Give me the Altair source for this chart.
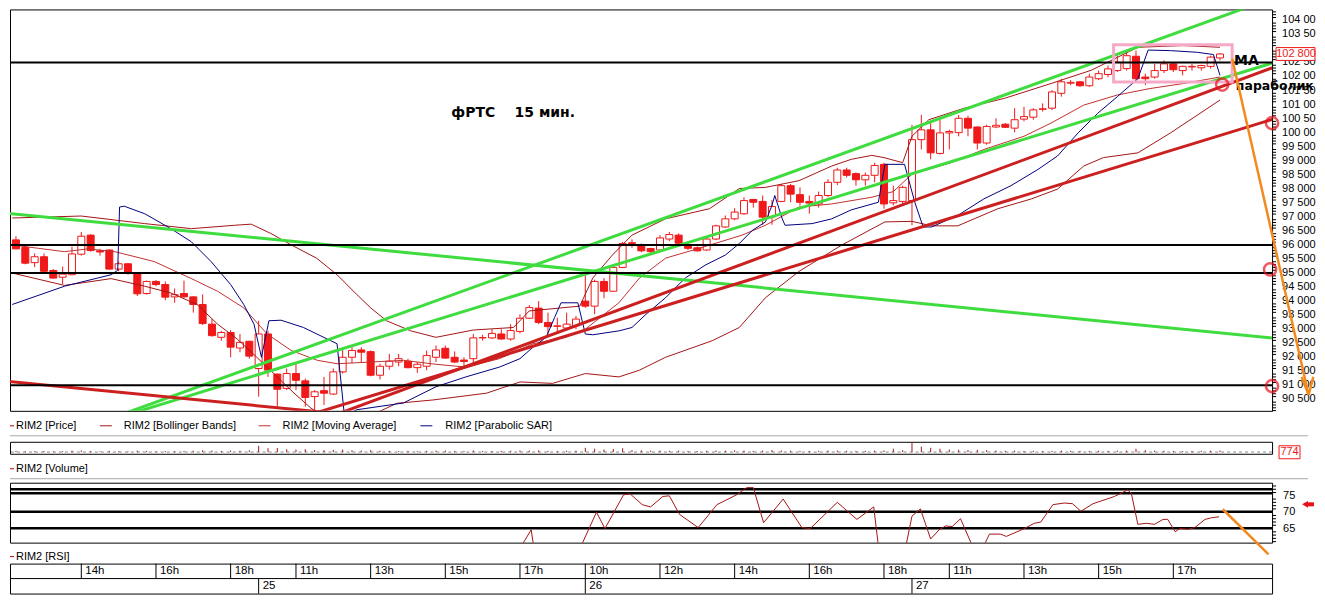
import altair as alt
import pandas as pd

# ---------------- candles (15 min, index 1 = 24th 12:15) ----------------
OPEN = [96180, 95910, 95370, 95580, 95090, 94850, 94940, 95670, 96350, 95790,
        95820, 95140, 95330, 95000, 94270, 94700, 94590, 94150, 94270, 94150,
        93880, 93180, 92710, 92880, 92330, 92570, 91600, 92830, 91400, 90890,
        91420, 91160, 90600, 90810, 90690, 91480, 92000, 92260, 92200, 91360,
        91680, 91830, 91860, 91630, 91680, 92000, 92320, 92000, 91900, 91950,
        92690, 92690, 92830, 92650, 92920, 93390, 93750, 93240, 93100, 93040,
        93120, 94000, 93820, 94700, 94350, 95200, 96050, 96000, 95870, 95820,
        96210, 96350, 96000, 95900, 95820, 96210, 96640, 96930, 97110, 97620,
        97550, 97000, 97550, 98110, 97790, 97550, 97460, 97760, 98230, 98670,
        98540, 98320, 98480, 98870, 97500, 97550, 97580, 99750, 100100, 99260,
        99990, 100000, 100510, 100200, 99630, 100200, 100300, 100160, 100480, 100550,
        100830, 100870, 101400, 101760, 101810, 101670, 101920, 102070, 102210, 102280,
        102720, 101980, 101980, 102210, 102450, 102210, 102340, 102310, 102360, 102660]
HIGH = [96310, 96000, 95700, 95700, 95140, 95230, 95940, 96460, 96380, 95860,
        95840, 95410, 95350, 95020, 94730, 94750, 94700, 94450, 94730, 94180,
        94240, 93360, 92940, 92970, 92830, 92590, 93300, 92940, 91420, 91600,
        91790, 91240, 90830, 91300, 91600, 92300, 92360, 92360, 92240, 91770,
        92120, 92120, 91950, 91830, 92240, 92420, 92420, 92210, 92000, 92830,
        92800, 93000, 93000, 93180, 93530, 93860, 94000, 93590, 93410, 93590,
        93470, 95060, 94760, 94820, 95230, 96110, 96200, 96050, 95900, 96350,
        96460, 96410, 96090, 95950, 96250, 96720, 97050, 97310, 97700, 97640,
        97760, 97600, 98170, 98170, 98050, 97760, 97900, 98340, 98750, 98750,
        98580, 98580, 98930, 98930, 98110, 98110, 100280, 100630, 100340, 100460,
        100100, 100630, 100600, 100220, 100280, 100510, 100340, 100870, 100920, 100870,
        101040, 101510, 101920, 101870, 101840, 102100, 102210, 102390, 102740, 102860,
        102920, 102100, 102450, 102570, 102510, 102390, 102450, 102420, 102740, 102830]
LOW = [95850, 95310, 95210, 95030, 94800, 94610, 94920, 95620, 95760, 95620,
       95120, 95060, 94940, 94180, 94230, 94530, 94030, 93940, 94120, 93590,
       93150, 92730, 92590, 92000, 92180, 91950, 90600, 91300, 90180, 90830,
       90830, 90240, 90100, 90300, 90660, 91420, 91790, 91830, 91320, 91210,
       91560, 91680, 91600, 91440, 91540, 91830, 91950, 91790, 91680, 91790,
       92590, 92650, 92620, 92590, 92850, 93360, 93180, 92830, 92830, 92940,
       93000, 93760, 93530, 94100, 94350, 95170, 95900, 95740, 95700, 95760,
       96140, 96000, 95820, 95760, 95790, 96170, 96610, 96880, 97070, 97330,
       96720, 96720, 97520, 97520, 97400, 97110, 97330, 97700, 98130, 98400,
       98110, 98110, 98230, 97290, 97410, 97460, 96700, 99400, 99050, 99220,
       99400, 99870, 99870, 99400, 99570, 100160, 100160, 100010, 100400, 100460,
       100750, 100800, 101280, 101690, 101630, 101630, 101870, 101980, 102160, 102210,
       101870, 101690, 101920, 102120, 102160, 102040, 102210, 102210, 102280, 102570]
CLOSE = [95860, 95350, 95580, 95060, 94820, 94960, 95680, 96310, 95800, 95750,
         95140, 95330, 95020, 94260, 94700, 94590, 94140, 94230, 94150, 93880,
         93200, 92770, 92880, 92360, 92530, 92040, 92830, 91540, 90860, 91420,
         91180, 90570, 90770, 90720, 91480, 92000, 92240, 92180, 91360, 91680,
         91860, 91950, 91630, 91750, 92060, 92260, 91970, 91830, 91850, 92690,
         92700, 92850, 92650, 92950, 93390, 93770, 93240, 93090, 93120, 93180,
         93360, 93820, 94700, 94350, 95200, 96050, 96080, 95790, 95760, 96250,
         96370, 96060, 95880, 95790, 96210, 96680, 96930, 97170, 97580, 97520,
         96990, 97370, 98110, 97810, 97520, 97490, 97760, 98230, 98670, 98480,
         98320, 98480, 98830, 97460, 97580, 98050, 99750, 100100, 99280, 99990,
         100040, 100510, 100160, 99630, 100220, 100260, 100190, 100460, 100570, 100810,
         100850, 101450, 101810, 101790, 101670, 101980, 102100, 102270, 102510, 102740,
         101920, 101920, 102210, 102450, 102240, 102360, 102360, 102390, 102690, 102800]
VOLUME = [90, 60, 70, 80, 60, 70, 110, 120, 80, 60, 90, 70, 60, 110, 90, 60, 80, 70, 80, 100,
          140, 120, 90, 110, 100, 130,
          480, 300, 320, 220, 200, 230, 160, 150, 170, 200, 140, 110, 150, 100, 90, 80, 90, 70,
          100, 110, 120, 90, 80, 130, 90, 80, 90, 100, 120, 110, 130, 90, 80, 100, 110,
          330, 260, 200, 240, 300, 150, 130, 110, 120, 100, 110, 90, 80, 100, 120, 110, 130, 120,
          90, 110, 150, 120, 110, 90, 80, 100, 120, 110, 100, 90, 100, 110, 130, 260, 140,
          774, 420, 330, 260, 200, 180, 160, 170, 150, 120, 100, 110, 90, 100, 80, 90, 110, 100,
          90, 80, 100, 90, 110, 120, 250, 140, 110, 100, 90, 80, 90, 100, 110, 120]

# ---------------- indicators ----------------
BB_UP_I = [0.6, 8, 14.8, 19.8, 24.4, 26.2, 28.3, 30.5, 33.2, 35.4, 37.5, 39, 40.7, 43.3, 46, 50, 54.3, 56,
           61.4, 62.8, 64.9, 67, 70.6, 75.3, 78.5, 81.3, 84.9, 88.4, 90.5, 92.7, 94, 96, 97, 98.8, 102.6,
           106.9, 111.9, 116.2, 121.2, 126.1, 130]
BB_UP = [96960, 97030, 96760, 96580, 96700, 96740, 96410, 96000, 95530, 94940, 94240, 93760, 93300, 92940,
         92710, 92970, 93060, 93650, 93820, 94820, 95640, 96350, 96930, 97290, 98010, 98050, 98290, 98810,
         99050, 99190, 99110, 98930, 99870, 100460, 100870, 101220, 101750, 102220, 103040, 103100, 103040]
MA_I = [0.6, 3.4, 6.2, 8.7, 11.6, 15.8, 19.8, 22.6, 25.4, 27.9, 30.5, 33.3, 35.4, 39, 42.5, 46, 49.2, 52.8,
        56.4, 59.9, 62, 65.6, 67.8, 70.6, 74.2, 78.8, 81.3, 84.9, 88.4, 92.7, 95, 97, 101.2, 104.7, 109,
        111.9, 115.4, 119, 122.5, 126.1, 130]
MA = [96000, 95880, 95760, 95860, 95760, 95410, 94800, 94350, 93760, 92830, 92240, 91890, 91770, 91830,
      91890, 91750, 91650, 91950, 92480, 92710, 93000, 93940, 94820, 95530, 95880, 96350, 96700, 97350,
      97460, 97700, 97900, 98520, 98930, 99400, 99870, 100340, 100980, 101340, 101570, 101750, 101980]
BB_LO_I = [0.6, 6.2, 11.2, 14.8, 17.6, 20.4, 22.6, 24.7, 26.8, 29, 30.8, 32.6, 34, 37, 39.5, 41.8, 45.7,
           51.4, 55, 58.5, 62, 65.6, 67.8, 70.6, 75.6, 78.5, 81.3, 84.9, 89.5, 94.1, 97, 99.1, 101.9,
           106.2, 109.8, 112.6, 115.4, 117.5, 121.2, 124.7, 130]
BB_LO = [95000, 94560, 94800, 94530, 94290, 93880, 93180, 92650, 92000, 91300, 90720, 90190, 89890, 89700,
         90000, 90360, 90480, 90720, 91120, 91070, 91420, 91300, 91540, 92000, 92590, 93060, 94120, 95060,
         96000, 96820, 96840, 96680, 96680, 97290, 97640, 97990, 98810, 99110, 99280, 99990, 101160]
SAR_I = [0.6, 6.2, 11.2, 11.9, 12.1, 12.6, 14.8, 17.6, 19.8, 21.9, 24, 25.4, 26.5, 27.3, 28.1, 29.4, 31.8,
         35.4, 36.2, 37.5, 42.5, 46, 49.2, 52.8, 55, 56.4, 57.8, 58.7, 59.4, 61.2, 62, 62.8, 65.6, 67,
         68.5, 70.6, 72.7, 74.9, 77, 78.5, 79.9, 81.3, 82, 82.3, 83.1, 83.4, 86.3, 88.4, 90.5, 93.4, 94.1,
         96.2, 97.3, 98.2, 99.1, 101.9, 104.7, 107.6, 110.5, 112.6, 114.8, 116.9, 119, 121.2, 122.3,
         124.7, 127.6, 129.3, 130]
SAR = [93880, 94530, 94940, 95100, 97350, 97380, 97110, 96580, 96110, 95410, 94590, 93880, 93180, 92000,
       93300, 93320, 93060, 92480, 89900, 90130, 90370, 90950, 91300, 91650, 91950, 92360, 92710, 93410,
       93940, 93940, 92830, 92800, 92940, 93060, 93530, 94120, 94820, 95290, 95640, 96050, 96520, 96820,
       97410, 97760, 96930, 96700, 96760, 96930, 97250, 97520, 98870, 98870, 97520, 96640, 96640, 97050,
       97640, 98110, 98690, 99170, 99990, 100690, 101280, 101920, 102940, 102920, 102860, 102780, 102040]
RSI_I = [54.3, 55.0, 56.2, 56.5, 58.0, 60.7, 61.6, 63.2, 64.1, 66.1, 66.8, 68.1, 69.0, 70.3, 71.0, 72.1,
         74.1, 76.1, 78.2, 79.3, 80.0, 81.1, 83.2, 85.2, 86.1, 89.0, 91.1, 92.9, 93.6, 94.8, 96.3, 97.0,
         97.9, 99.0, 99.9, 100.6, 101.3, 102.2, 103.5, 104.7, 105.3, 106.5, 107.1, 108.9, 110.1, 110.8,
         112.1, 113.3, 114.2, 115.1, 116.4, 118.7, 120.1, 120.5, 121.2, 122.1, 123.0, 123.9, 124.4,
         125.2, 125.7, 126.6, 127.3, 128.4, 129.1, 129.9]
RSI = [55, 59, 64.6, 59, 52, 55, 60, 70, 65, 75.3, 75.6, 72.3, 71.6, 74.8, 75.0, 69.3, 65.3, 72.3, 75.3,
       77.5, 77.5, 66.8, 74.0, 65.3, 65.0, 73.0, 67.8, 71.6, 55, 52, 59, 68.8, 71.0, 61.8, 64.6, 65.8,
       65.6, 68.0, 59.5, 59.8, 63.3, 63.3, 62.6, 64.8, 66.6, 67.0, 72.3, 72.8, 72.6, 70.3, 72.6, 74.8,
       76.8, 75.8, 66.3, 66.6, 66.3, 67.8, 67.8, 64.0, 65.0, 64.8, 65.3, 67.8, 68.3, 68.6]

# ---------------- drawn objects ----------------
LEVELS = [102500, 96000, 95000, 91000]
GREEN_X1 = [-1.2, 10.78, 11.21]
GREEN_Y1 = [97169, 89775, 89775]
GREEN_X2 = [136.4, 133.74, 136.4]
GREEN_Y2 = [92662, 104563, 102560]
REDL_X1 = [-1.2, 33.8, 30.74]
REDL_Y1 = [91184, 89775, 89775]
REDL_X2 = [42.26, 136.4, 136.4]
REDL_Y2 = [89775, 102405, 100553]
BOX_I = [118.6, 131.3]
BOX_P = [101806, 103130]
CIRCLE_I = [130.24, 135.58, 135.37, 135.58]
CIRCLE_P = [101711, 100338, 95127, 90972]
ARROW_X1 = [131.31, 138.75, 140.0]
ARROW_Y1 = [102627, 91300, 91300]
ARROW_X2 = [139.5, 139.5, 139.5]
ARROW_Y2 = [90655, 90655, 90655]
RSI_ARROW = [130.3, 70.9, 135.2, 57.1]
RSI_LEVELS = [77.0, 75.8, 70.1, 65.1]
RSI_TICKS = [75, 70, 65]
PRICE_TICKS = list(range(90500, 104001, 500))
LAST_PRICE = 102800
MAX_VOLUME = 774
TIME_LABELS = ["14h", "16h", "18h", "11h", "13h", "15h", "17h", "10h", "12h", "14h", "16h", "18h",
               "11h", "13h", "15h", "17h"]
TIME_I = [8, 16, 24, 31, 39, 47, 55, 62, 70, 78, 86, 94, 101, 109, 117, 125]
DAY_LABELS = ["25", "26", "27"]
DAY_I = [27, 62, 97]
TITLE = "фРТС\u00a0\u00a0\u00a0\u00a015 мин."
TITLE_POS = [47.64, 100690]
MA_LABEL_POS = [131.5, 102556]
SAR_LABEL_POS = [131.7, 101676]

# ---------------- style ----------------
FONT = "Liberation Sans"
RED = "#f01818"
W = 1264
H_MAIN, H_LEG, H_VOL, H_VLAB, H_RSI, H_RLAB, H_TIME = 402, 31, 12, 29, 60, 21, 30
XS = alt.Scale(domain=[0.36, 135.58], nice=False, zero=False, padding=0)
YS = alt.Scale(domain=[90092, 104387], nice=False, zero=False, padding=0)
VS = alt.Scale(domain=[-132, 800], nice=False, zero=False, padding=0)
RS = alt.Scale(domain=[60.7, 79.0], nice=False, zero=False, padding=0)
NOBORDER = alt.ViewBackground(stroke="transparent")
BORDER = alt.ViewBackground(stroke="black", strokeWidth=1)
ONE = pd.DataFrame({"k": [0]})


def xq(f="i"):
    return alt.X(f"{f}:Q", scale=XS, axis=None)


def yq(f, s):
    return alt.Y(f"{f}:Q", scale=s, axis=None)


def xgrid():
    return alt.Axis(values=TIME_I, labels=False, ticks=False, domain=False, grid=True,
                    gridDash=[3, 3], gridColor="#8a8a8a", title=None)


def yaxis(values):
    return alt.Axis(orient="right", values=values, grid=True, gridDash=[3, 3], gridColor="#8a8a8a",
                    tickSize=7, tickColor="black", domain=False, labels=False, title=None)


def vtext(txt, x, y, size=11, color="black", weight="normal", align="left"):
    return alt.Chart(ONE).mark_text(align=align, baseline="middle", font=FONT, fontSize=size,
                                    color=color, fontWeight=weight).encode(
        x=alt.value(x), y=alt.value(y), text=alt.value(txt))


def hline(x1, x2, y, color, w=1):
    return alt.Chart(ONE).mark_rule(color=color, strokeWidth=w).encode(
        x=alt.value(x1), x2=alt.value(x2), y=alt.value(y))


def segs(x1, y1, x2, y2, scale, color, w, clip=True):
    d = pd.DataFrame({"x1": x1, "y1": y1, "x2": x2, "y2": y2})
    return alt.Chart(d).mark_rule(color=color, strokeWidth=w, clip=clip).encode(
        x=alt.X("x1:Q", scale=XS, axis=None), y=alt.Y("y1:Q", scale=scale, axis=None),
        x2="x2:Q", y2="y2:Q")


def series(ix, vals, scale, color, w=1):
    d = pd.DataFrame({"i": ix, "v": vals})
    return alt.Chart(d).mark_line(color=color, strokeWidth=w, clip=True).encode(
        x=xq(), y=yq("v", scale))


def ptext(txt, pos, size=14):
    d = pd.DataFrame({"i": [pos[0]], "p": [pos[1]]})
    return alt.Chart(d).mark_text(align="left", baseline="middle", font="DejaVu Sans",
                                  fontSize=size, fontWeight="bold", color="black").encode(
        x=xq(), y=yq("p", YS), text=alt.value(txt))


def tick_labels(values, texts, scale, x, limit=0):
    d = pd.DataFrame({"p": values, "t": texts})
    kw = dict(align="left", baseline="middle", font=FONT, fontSize=11, color="black")
    if limit:
        kw.update(limit=limit, ellipsis="\u200b")
    return alt.Chart(d).mark_text(**kw).encode(x=alt.value(x), y=yq("p", scale), text="t:N")


# ---------------- main price panel ----------------
cdf = pd.DataFrame({"i": list(range(1, len(OPEN) + 1)), "o": OPEN, "h": HIGH, "l": LOW, "c": CLOSE})
main_axes = alt.Chart(cdf).mark_point(opacity=0).encode(
    x=alt.X("i:Q", scale=XS, axis=xgrid()),
    y=alt.Y("c:Q", scale=YS, axis=yaxis(PRICE_TICKS)))
minor_p = pd.DataFrame({"p": [p for p in range(90100, 104400, 100) if p % 500]})
main_minor = alt.Chart(minor_p).mark_rule(color="black").encode(
    y=yq("p", YS), x=alt.value(W), x2=alt.value(W + 4))
shown = [p for p in PRICE_TICKS if abs(p - LAST_PRICE) > 250]   # label under the price box is hidden
price_labels = tick_labels(shown, [f"{p:,}".replace(",", " ") for p in shown], YS, W + 10, limit=34)
wicks = alt.Chart(cdf).mark_rule(color=RED, strokeWidth=1).encode(x=xq(), y=yq("l", YS), y2="h:Q")
bodies = alt.Chart(cdf).mark_bar(width=7, stroke=RED, strokeWidth=1).encode(
    x=xq(), y=yq("o", YS), y2="c:Q",
    fill=alt.condition("datum.c >= datum.o", alt.value("white"), alt.value(RED)))
levels = alt.Chart(pd.DataFrame({"p": LEVELS})).mark_rule(color="black", strokeWidth=2).encode(
    y=yq("p", YS))
pink = alt.Chart(pd.DataFrame({"x1": [BOX_I[0]], "x2": [BOX_I[1]], "y1": [BOX_P[0]], "y2": [BOX_P[1]]})
                 ).mark_rect(fillOpacity=0, stroke="#f5a9c6", strokeWidth=3).encode(
    x=alt.X("x1:Q", scale=XS, axis=None), x2="x2:Q", y=alt.Y("y1:Q", scale=YS, axis=None), y2="y2:Q")
circles = alt.Chart(pd.DataFrame({"i": CIRCLE_I, "p": CIRCLE_P})).mark_point(
    shape="circle", filled=False, color="#e8101a", strokeWidth=2.5, size=150).encode(
    x=xq(), y=yq("p", YS))
price_box_df = pd.DataFrame({"p": [LAST_PRICE]})
price_box = alt.Chart(price_box_df).transform_calculate(
    top="datum.p + 229", bot="datum.p - 229").mark_rect(fill="white", stroke=RED, strokeWidth=1).encode(
    x=alt.value(W + 4), x2=alt.value(W + 43), y=alt.Y("top:Q", scale=YS, axis=None), y2="bot:Q")
price_txt = alt.Chart(price_box_df).mark_text(font=FONT, fontSize=11, color=RED, align="center",
                                              baseline="middle").encode(
    x=alt.value(W + 24), y=yq("p", YS), text=alt.value(f"{LAST_PRICE:,}".replace(",", " ")))

main = alt.layer(
    main_axes, main_minor, price_labels, wicks, bodies,
    series(BB_UP_I, BB_UP, YS, "#a31515"), series(MA_I, MA, YS, "#c03030"),
    series(BB_LO_I, BB_LO, YS, "#a31515"), series(SAR_I, SAR, YS, "#000080"),
    segs(GREEN_X1, GREEN_Y1, GREEN_X2, GREEN_Y2, YS, "#3fdc3f", 3),
    segs(REDL_X1, REDL_Y1, REDL_X2, REDL_Y2, YS, "#cc1f1f", 3),
    levels, pink, circles,
    ptext(TITLE, TITLE_POS, 14), ptext("МА", MA_LABEL_POS, 14), ptext("параболик", SAR_LABEL_POS, 12.5),
    segs(ARROW_X1, ARROW_Y1, ARROW_X2, ARROW_Y2, YS, "#f28a1e", 2.5, clip=False),
    price_box, price_txt,
).properties(width=W, height=H_MAIN, view=BORDER)

# ---------------- legend row ----------------
legend = alt.layer(
    hline(0, 4, 15, "#c00000"), vtext("RIM2 [Price]", 6, 15),
    hline(90, 102, 15, "#a31515"), vtext("RIM2 [Bollinger Bands]", 114, 15),
    hline(249, 261, 15, "#c03030"), vtext("RIM2 [Moving Average]", 273, 15),
    hline(411, 423, 15, "#000080"), vtext("RIM2 [Parabolic SAR]", 436, 15),
    hline(0, 1300, 25, "#a8a8a8"),
).properties(width=W, height=H_LEG, view=NOBORDER)

# ---------------- volume ----------------
vdf = pd.DataFrame({"i": list(range(1, len(VOLUME) + 1)), "v": VOLUME})
vol = alt.layer(
    alt.Chart(vdf).mark_point(opacity=0).encode(x=alt.X("i:Q", scale=XS, axis=xgrid()), y=yq("v", VS)),
    alt.Chart(pd.DataFrame({"z": [0]})).mark_rule(color="#8a8a8a", strokeDash=[3, 3]).encode(y=yq("z", VS)),
    alt.Chart(vdf).mark_rule(color="#a31515", strokeWidth=1).encode(x=xq(), y=yq("v", VS), y2=alt.datum(0)),
    alt.Chart(ONE).mark_rect(fill="white", stroke=RED, strokeWidth=1).encode(
        x=alt.value(W + 7), x2=alt.value(W + 28), y=alt.value(4), y2=alt.value(17)),
    vtext(str(MAX_VOLUME), W + 17.5, 10.5, color=RED, align="center"),
).properties(width=W, height=H_VOL, view=BORDER)

vlab = alt.layer(
    hline(0, 4, 15, "#c00000"), vtext("RIM2 [Volume]", 6, 15),
    hline(0, 1300, 25, "#a8a8a8"),
).properties(width=W, height=H_VLAB, view=NOBORDER)

# ---------------- RSI ----------------
rdf = pd.DataFrame({"i": RSI_I, "v": RSI})
minor_r = pd.DataFrame({"r": [r for r in range(61, 79) if r % 5]})
rsi = alt.layer(
    alt.Chart(rdf).mark_point(opacity=0).encode(
        x=alt.X("i:Q", scale=XS, axis=xgrid()), y=alt.Y("v:Q", scale=RS, axis=yaxis(RSI_TICKS))),
    alt.Chart(minor_r).mark_rule(color="black").encode(y=yq("r", RS), x=alt.value(W), x2=alt.value(W + 4)),
    tick_labels(RSI_TICKS, [str(t) for t in RSI_TICKS], RS, W + 11),
    alt.Chart(pd.DataFrame({"r": RSI_LEVELS})).mark_rule(color="black", strokeWidth=2.5).encode(y=yq("r", RS)),
    alt.Chart(rdf).mark_line(color="#a31515", strokeWidth=1, clip=True).encode(x=xq(), y=yq("v", RS)),
    segs([RSI_ARROW[0]], [RSI_ARROW[1]], [RSI_ARROW[2]], [RSI_ARROW[3]], RS, "#f28a1e", 2.5, clip=False),
    alt.Chart(pd.DataFrame({"r": [72.4]})).mark_point(shape="triangle-left", filled=True, color="#e8101a",
                                                      size=45, opacity=1).encode(
        x=alt.value(W + 33), y=yq("r", RS)),
    alt.Chart(pd.DataFrame({"r": [72.4]})).mark_rule(color="#e8101a", strokeWidth=4).encode(
        x=alt.value(W + 35), x2=alt.value(W + 42), y=yq("r", RS)),
).properties(width=W, height=H_RSI, view=BORDER)

rlab = alt.layer(
    hline(0, 4, 14, "#c00000"), vtext("RIM2 [RSI]", 6, 14),
).properties(width=W, height=H_RLAB, view=NOBORDER)

# ---------------- time axis ----------------
tdf = pd.DataFrame({"i": TIME_I, "t": TIME_LABELS})
ddf = pd.DataFrame({"i": DAY_I, "t": DAY_LABELS})
time_axis = alt.layer(
    alt.Chart(tdf).mark_rule(color="black").encode(x=xq(), y=alt.value(0), y2=alt.value(15)),
    alt.Chart(tdf).mark_text(align="left", baseline="middle", dx=4, font=FONT, fontSize=11.5,
                             color="black").encode(x=xq(), y=alt.value(7.5), text="t:N"),
    alt.Chart(ddf).mark_rule(color="black").encode(x=xq(), y=alt.value(15), y2=alt.value(30)),
    alt.Chart(ddf).mark_text(align="left", baseline="middle", dx=4, font=FONT, fontSize=11.5,
                             color="black").encode(x=xq(), y=alt.value(22.5), text="t:N"),
    hline(0, W, 15, "black"),
).properties(width=W, height=H_TIME, view=BORDER)

chart = alt.vconcat(main, legend, vol, vlab, rsi, rlab, time_axis, spacing=0, bounds="flush").properties(
    padding=0, background="white").configure_view(stroke="black", strokeWidth=1)

chart.save("out.html", embed_options={"renderer": "svg", "actions": False})
